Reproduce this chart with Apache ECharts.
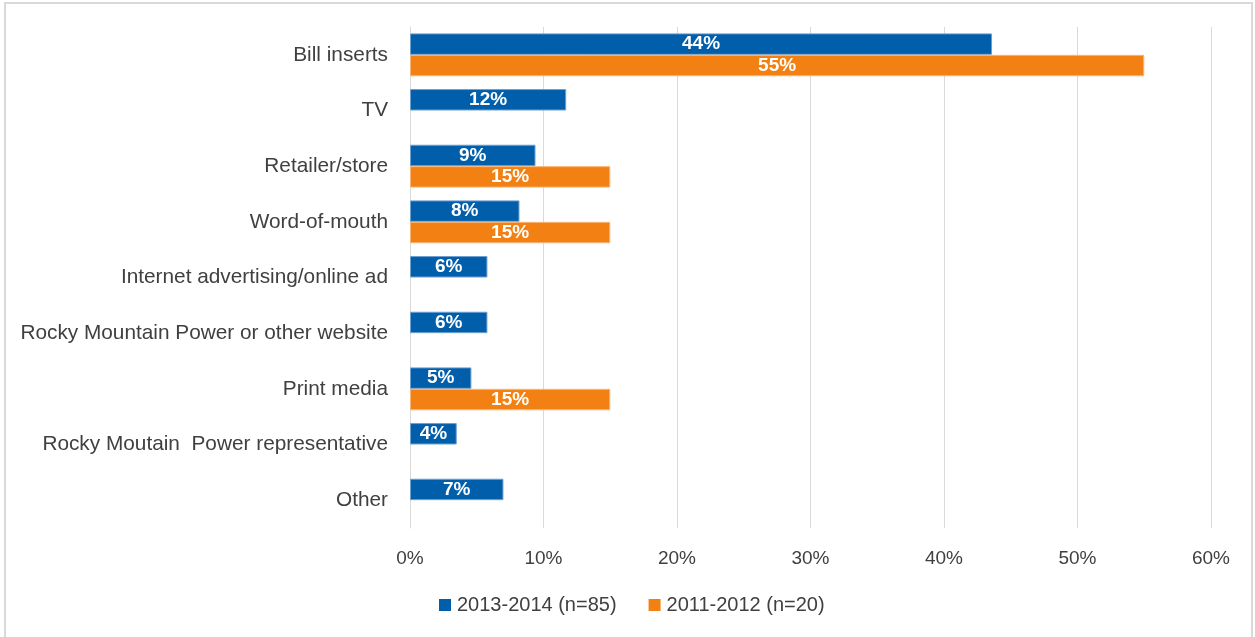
<!DOCTYPE html>
<html>
<head>
<meta charset="utf-8">
<script src="https://cdn.jsdelivr.net/npm/echarts@6/dist/echarts.min.js"></script>
<style>
  html, body { margin: 0; padding: 0; background: #fff; }
  #frame { position: absolute; left: 4px; top: 2px; width: 1249px; height: 640px; border: 2px solid #d9d9d9; box-sizing: border-box; }
  #chart { width: 1255px; height: 637px; }
</style>
</head>
<body>
<div id="frame"></div>
<div id="chart"></div>
<script>
// Sources through which participants heard about the program
const categories = [
  'Bill inserts',
  'TV',
  'Retailer/store',
  'Word-of-mouth',
  'Internet advertising/online ad',
  'Rocky Mountain Power or other website',
  'Print media',
  'Rocky Moutain  Power representative',
  'Other'
];
const seriesNames = ['2013-2014 (n=85)', '2011-2012 (n=20)'];
const values2013 = [43.6, 11.7, 9.4, 8.2, 5.8, 5.8, 4.6, 3.5, 7.0];
const values2011 = [55.0, null, 15.0, 15.0, null, null, 15.0, null, null];
const axisTicks = [0, 10, 20, 30, 40, 50, 60];

const BLUE = '#005EAB';
const ORANGE = '#F38012';
const FONT = '"Liberation Sans", Arial, sans-serif';

const chart = echarts.init(document.getElementById('chart'), null, { renderer: 'canvas' });

const labelStyle = {
  show: true,
  position: 'inside',
  color: '#ffffff',
  fontFamily: FONT,
  fontWeight: 'bold',
  fontSize: 19,
  formatter: p => Math.round(p.value) + '%'
};

chart.setOption({
  animation: false,
  backgroundColor: 'transparent',
  textStyle: { fontFamily: FONT },
  grid: { left: 410, right: 44, top: 27, bottom: 109, containLabel: false },
  legend: {
    data: seriesNames,
    top: 595,
    left: 439,
    padding: 0,
    itemWidth: 12,
    itemHeight: 12,
    itemGap: 32,
    icon: 'rect',
    itemStyle: { borderWidth: 0 },
    textStyle: { fontFamily: FONT, fontSize: 20, color: '#404040', padding: [0, 0, 0, 1] }
  },
  xAxis: {
    type: 'value',
    min: axisTicks[0],
    max: axisTicks[axisTicks.length - 1],
    interval: 10,
    axisLine: { show: false },
    axisTick: { show: false },
    splitLine: { show: true, lineStyle: { color: '#d9d9d9', width: 1 } },
    axisLabel: {
      margin: 21,
      color: '#404040',
      fontFamily: FONT,
      fontSize: 19,
      formatter: v => v + '%'
    }
  },
  yAxis: {
    type: 'category',
    data: categories,
    inverse: true,
    axisLine: { show: true, lineStyle: { color: '#d9d9d9', width: 1 } },
    axisTick: { show: false },
    axisLabel: {
      margin: 22,
      color: '#404040',
      fontFamily: FONT,
      fontSize: 20.8,
      padding: [3, 0, 0, 0]
    }
  },
  series: [
    {
      name: seriesNames[0],
      type: 'bar',
      data: values2013,
      barGap: '0%',
      barCategoryGap: '23%',
      itemStyle: { color: BLUE, borderColor: '#6C9FD0', borderWidth: 1 },
      label: labelStyle
    },
    {
      name: seriesNames[1],
      type: 'bar',
      data: values2011,
      barGap: '0%',
      barCategoryGap: '23%',
      itemStyle: { color: ORANGE, borderColor: '#F7B577', borderWidth: 1 },
      label: labelStyle
    }
  ]
});
</script>
</body>
</html>
